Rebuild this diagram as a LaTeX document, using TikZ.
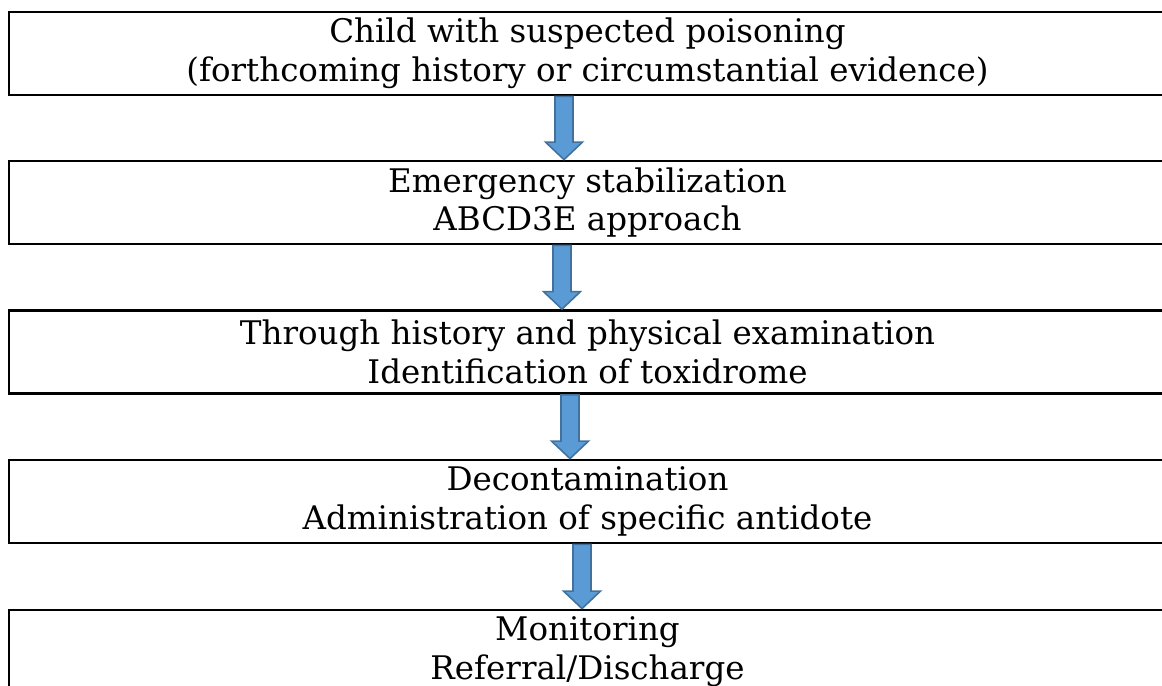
\documentclass[tikz,border=0pt]{standalone}
\usepackage{fontspec}
\setmainfont{DejaVu Serif}
\usetikzlibrary{calc}
\definecolor{arrowfill}{HTML}{5B9BD5}
\definecolor{arrowline}{HTML}{41719C}

\begin{document}
\begin{tikzpicture}[
  font=\fontsize{18.5}{22}\selectfont,
  stage/.style={
    rectangle, draw=black, line width=1.6pt,
    minimum width=23.14cm, minimum height=1.66cm,
    align=center, inner sep=0pt
  },
  blockarrow/.style={
    fill=arrowfill, draw=arrowline, line width=0.9pt,
    to path={let \p1=(\tikztostart), \p2=(\tikztotarget) in
      (\x1-0.18cm,\y1) -- (\x1+0.18cm,\y1) -- (\x1+0.18cm,\y2+0.35cm)
      -- (\x1+0.37cm,\y2+0.35cm) -- (\x1,\y2) -- (\x1-0.37cm,\y2+0.35cm)
      -- (\x1-0.18cm,\y2+0.35cm) -- cycle}
  },
]

\useasboundingbox (0,0) rectangle (23.24,13.72);
\clip (0,0) rectangle (23.24,13.72);

% the five stages, top to bottom
\node[stage] (child)   at (11.75,12.65) {Child with suspected poisoning\\(forthcoming history or circumstantial evidence)};
\node[stage] (stab)    at (11.75,9.67)  {Emergency stabilization\\ABCD3E approach};
\node[stage] (exam)    at (11.75,6.68)  {Through history and physical examination\\Identification of toxidrome};
\node[stage] (decon)   at (11.75,3.69)  {Decontamination\\Administration of specific antidote};
\node[stage] (monitor) at (11.75,0.69)  {Monitoring\\Referral/Discharge};

% block arrows between stages
\draw[blockarrow] ($(child.south)+(-0.47,0)$) to ($(stab.north)+(-0.47,0)$);
\draw[blockarrow] ($(stab.south)+(-0.51,0)$)  to ($(exam.north)+(-0.51,0)$);
\draw[blockarrow] ($(exam.south)+(-0.35,0)$)  to ($(decon.north)+(-0.35,0)$);
\draw[blockarrow] ($(decon.south)+(-0.11,0)$) to ($(monitor.north)+(-0.11,0)$);

\end{tikzpicture}
\end{document}
